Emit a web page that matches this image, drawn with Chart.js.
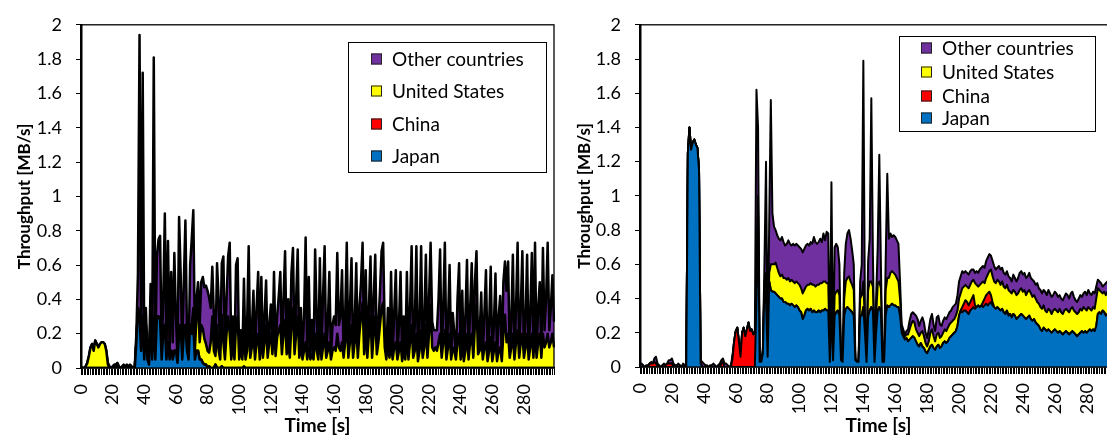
<!DOCTYPE html>
<html>
<head>
<meta charset="utf-8">
<script src="https://cdn.jsdelivr.net/npm/chart.js@4.4.1/dist/chart.umd.min.js"></script>
<style>
  html, body { margin: 0; padding: 0; background: #fff; overflow: hidden; width: 1107px; height: 438px; }
  .panel { position: absolute; top: 0; }
  #panelL { left: 0; }
  #panelR { left: 560px; }
</style>
</head>
<body>
<div class="panel" id="panelL"><canvas id="left" width="560" height="438"></canvas></div>
<div class="panel" id="panelR"><canvas id="right" width="567" height="438"></canvas></div>
<script>
// Time axis: one sample per second, 0..299
const seconds = [];
for (let s = 0; s < 300; s++) seconds.push(s);

// ---- Left panel: throughput per country [MB/s] ----
const leftJapan = [
  0,0,0,0,0,0,0,0,0,0,
  0,0,0,0,0,0,0,0,0,0,
  0,0,0,0,0,0,0,0,0,0,
  0,0,0,0,0,.15,.35,.3,.1,.3,
  .05,.25,.05,.02,.3,.05,.3,.05,.3,.3,
  .28,.05,.2,.25,.05,.15,.05,.1,.05,.1,
  .1,.03,.2,.25,.05,.2,.25,.1,.05,.25,
  .2,.25,.05,.1,.1,.05,.05,.03,.02,.02,
  0,.01,0,0,0,.02,0,0,0,.01,
  0,0,0,0,0,0,0,0,0,0,
  0,0,0,0,0,0,0,0,0,0,
  0,0,0,0,0,0,0,0,0,0,
  0,0,0,0,0,0,0,0,0,0,
  0,0,0,0,0,0,0,0,0,0,
  0,0,0,0,0,0,0,0,0,0,
  0,0,0,0,0,0,0,0,0,0,
  0,0,0,0,0,0,0,0,0,0,
  0,0,0,0,0,0,0,0,0,0,
  0,0,0,0,0,0,0,0,0,0,
  0,0,0,0,0,0,0,0,0,0,
  0,0,0,0,0,0,0,0,0,0,
  0,0,0,0,0,0,0,0,0,0,
  0,0,0,0,0,0,0,0,0,0,
  0,0,0,0,0,0,0,0,0,0,
  0,0,0,0,0,0,0,0,0,0,
  0,0,0,0,0,0,0,0,0,0,
  0,0,0,0,0,0,0,0,0,0,
  0,0,0,0,0,0,0,0,0,0,
  0,0,0,0,0,0,0,0,0,0,
  0,0,0,0,0,0,0,0,0,0
];
const leftChina = [
  0,0,0,0,0,0,0,0,0,0,
  0,0,0,0,0,0,0,0,0,0,
  0,0,.01,0,0,0,0,0,0,0,
  0,0,0,0,0,0,0,0,0,0,
  0,0,0,0,0,0,0,0,0,0,
  0,0,0,0,0,0,0,0,0,0,
  0,0,0,0,0,0,0,0,0,0,
  0,0,0,0,0,0,0,0,0,0,
  0,0,0,0,0,0,0,0,0,0,
  0,0,0,0,0,0,0,0,0,0,
  0,0,0,.01,0,0,0,0,0,0,
  0,0,0,0,0,0,0,0,0,0,
  0,0,0,0,0,0,0,0,0,0,
  0,0,0,0,0,0,0,0,0,0,
  0,0,0,0,0,0,0,0,0,0,
  0,0,0,0,0,0,0,0,0,0,
  0,0,0,0,0,0,0,0,0,0,
  0,0,0,0,0,0,0,0,0,0,
  0,0,0,0,0,0,0,0,0,0,
  0,0,0,0,0,0,0,0,0,0,
  0,0,0,0,0,0,0,0,0,0,
  0,0,0,0,0,0,0,0,0,0,
  0,0,0,0,0,0,0,0,0,0,
  0,0,0,0,0,0,0,0,0,0,
  0,0,0,0,0,0,0,0,0,0,
  0,0,0,0,0,0,0,0,0,0,
  0,0,0,0,0,0,0,0,0,0,
  0,0,0,0,0,0,0,0,0,0,
  0,0,0,0,0,0,0,0,0,0,
  0,0,0,0,0,0,0,0,0,0
];
const leftUS = [
  0,0,0,.01,.03,.07,.12,.14,.1,.16,
  .14,.12,.14,.15,.15,.14,.1,.02,0,0,
  0,0,0,0,0,0,0,0,0,0,
  0,0,0,0,0,0,0,0,0,0,
  0,0,0,0,0,0,0,0,0,0,
  0,0,0,0,0,0,0,0,0,0,
  0,0,0,0,0,0,0,0,0,0,
  .05,.1,.05,.2,.3,.1,.2,.2,.15,.12,
  .1,.08,.15,.3,.1,.05,.25,.1,.05,.3,
  .15,.05,.2,.3,.2,.05,.15,.05,.25,.3,
  .05,.12,.05,.2,.05,.1,.3,.06,.12,.2,
  .05,.15,.2,.05,.2,.06,.15,.25,.06,.15,
  .2,.08,.25,.07,.18,.22,.25,.08,.2,.28,
  .08,.15,.06,.25,.35,.08,.2,.3,.06,.15,
  .05,.1,.15,.05,.12,.05,.08,.05,.2,.1,
  .05,.2,.05,.12,.2,.06,.1,.15,.05,.1,
  .12,.1,.2,.12,.1,.15,.06,.15,.3,.06,
  .15,.25,.06,.15,.25,.06,.2,.3,.38,.08,
  .25,.06,.2,.3,.06,.2,.3,.08,.15,.25,
  .35,.38,.12,.05,.15,.06,.15,.05,.12,.15,
  .05,.1,.15,.04,.1,.05,.2,.05,.15,.25,
  .06,.1,.2,.04,.1,.22,.06,.12,.25,.06,
  .2,.37,.12,.1,.12,.1,.15,.2,.06,.15,
  .22,.05,.12,.2,.05,.12,.1,.05,.15,.2,
  .05,.15,.04,.1,.2,.05,.15,.2,.06,.25,
  .37,.08,.1,.2,.05,.12,.15,.04,.1,.18,
  .04,.1,.15,.04,.1,.12,.04,.2,.31,.15,
  .2,.06,.12,.2,.05,.15,.22,.06,.15,.2,
  .06,.12,.2,.05,.12,.2,.06,.22,.06,.15,
  .2,.06,.2,.12,.15,.2,.12,.15,.2,.12
];
const leftOther = [
  0,0,0,0,0,0,0,0,0,0,
  0,0,0,0,0,0,0,.01,.01,0,
  .01,.02,.01,.03,.01,0,.01,.02,.01,.02,
  .01,.02,.01,0,.01,.05,.2,1.64,.05,1.42,
  .02,.1,.02,.02,.19,.03,1.51,.05,.35,.45,
  .49,.05,.2,.65,.03,.59,.05,.46,.1,.57,
  .2,.02,.68,.3,.05,.3,.61,.1,.03,.35,
  .5,.57,.05,.1,.1,.1,.25,.3,.3,.34,
  .35,.32,.2,.29,.2,.03,.36,.3,.05,.3,
  .5,.05,.2,.35,.53,.05,.15,.02,.35,.34,
  .01,.1,.02,.31,.01,.15,.41,.02,.1,.25,
  .01,.2,.36,.03,.33,.02,.15,.26,.02,.1,
  .17,.02,.31,.04,.12,.2,.31,.02,.2,.4,
  .03,.25,.02,.3,.35,.02,.2,.39,.02,.2,
  .01,.2,.61,.01,.41,.02,.2,.01,.49,.2,
  .01,.44,.02,.3,.51,.01,.15,.41,.02,.15,
  .18,.15,.47,.13,.2,.42,.02,.15,.43,.02,
  .2,.39,.01,.1,.36,.01,.15,.2,.35,.02,
  .32,.02,.15,.35,.02,.2,.36,.02,.1,.2,
  .33,.35,.1,.02,.2,.02,.41,.01,.2,.42,
  .01,.15,.41,.01,.2,.02,.36,.01,.2,.46,
  .02,.15,.51,.01,.15,.49,.02,.15,.41,.02,
  .2,.36,.15,.12,.1,.12,.25,.49,.02,.2,
  .51,.01,.15,.4,.01,.2,.1,.01,.25,.41,
  .01,.3,.01,.2,.43,.01,.2,.41,.02,.25,
  .31,.03,.1,.24,.01,.2,.42,.01,.15,.41,
  .01,.15,.4,.01,.2,.3,.01,.3,.31,.3,
  .42,.02,.15,.46,.01,.2,.51,.02,.2,.48,
  .02,.15,.46,.01,.2,.47,.02,.51,.02,.2,
  .3,.03,.5,.1,.25,.53,.1,.2,.34,.15
];

// ---- Right panel: throughput per country [MB/s] ----
const rightJapan = [
  0,0,0,0,0,0,0,0,0,0,
  0,0,0,0,0,0,0,0,0,0,
  0,0,0,0,0,0,0,0,0,0,
  1.25,1.4,1.27,1.31,1.33,1.3,1.28,1.15,.02,0,
  0,0,0,0,0,0,0,0,0,0,
  0,0,0,0,0,0,0,0,0,0,
  0,0,0,0,0,0,0,0,0,0,
  0,0,0,.4,.9,.03,.03,.08,.45,.4,
  .06,.5,.45,.44,.44,.43,.42,.41,.4,.4,
  .38,.38,.37,.37,.36,.37,.36,.35,.36,.35,
  .33,.32,.28,.3,.33,.34,.33,.34,.32,.33,
  .32,.32,.33,.32,.33,.33,.34,.33,.33,.03,
  .35,.04,.3,.32,.33,.3,.04,.03,.3,.34,
  .35,.34,.33,.32,.3,.04,.03,.03,.3,.3,
  .35,.2,.03,.3,.33,.35,.33,.03,.2,.33,
  .35,.32,.03,.03,.3,.36,.35,.36,.37,.36,
  .36,.35,.35,.3,.2,.18,.16,.17,.15,.16,
  .17,.18,.17,.15,.13,.12,.14,.12,.11,.09,
  .08,.1,.12,.13,.11,.1,.12,.13,.11,.12,
  .14,.15,.14,.15,.17,.18,.19,.2,.21,.24,
  .3,.33,.32,.33,.33,.32,.31,.33,.34,.35,
  .34,.35,.36,.35,.36,.35,.36,.37,.36,.37,
  .38,.36,.35,.34,.35,.34,.33,.34,.32,.31,
  .33,.3,.31,.29,.31,.3,.28,.29,.3,.31,
  .3,.29,.28,.29,.3,.28,.27,.28,.26,.25,
  .24,.22,.21,.23,.22,.21,.22,.21,.2,.21,
  .22,.21,.2,.21,.2,.19,.2,.21,.2,.19,
  .2,.21,.2,.19,.18,.19,.2,.21,.2,.21,
  .2,.21,.22,.21,.22,.21,.24,.31,.32,.31,
  .33,.32,.3,.31,.3,.31,.3,.31,.3,.31
];
const rightChina = [
  0,0,0,0,0,0,.02,.02,.02,.03,
  .02,.01,0,0,0,0,.01,.02,.02,.02,
  .02,0,0,0,0,0,0,0,0,0,
  0,0,0,0,0,0,0,0,0,0,
  0,0,0,0,0,0,0,0,0,0,
  0,.02,.03,0,0,0,0,0,.05,.15,
  .21,.23,.15,.06,.2,.23,.18,.22,.26,.21,
  .22,.19,.2,0,0,0,0,0,0,0,
  0,0,0,0,0,0,0,0,0,0,
  0,0,0,0,0,0,0,0,0,0,
  0,0,0,0,0,0,0,0,0,0,
  0,0,0,0,0,0,0,0,0,0,
  0,0,0,0,0,0,0,0,0,0,
  0,0,0,0,0,0,0,0,0,0,
  0,0,0,0,0,0,0,0,0,0,
  0,0,0,0,0,0,0,0,0,0,
  0,0,0,0,0,0,0,0,0,0,
  0,0,0,0,0,0,0,0,0,0,
  0,0,0,0,0,0,0,0,0,0,
  0,0,0,0,0,0,0,0,0,0,
  0,0,.03,.04,.06,.06,.05,.05,.06,.07,
  .02,0,0,0,0,.03,.04,.05,.07,.07,
  .04,.02,0,0,0,0,0,0,0,0,
  0,0,0,0,0,0,0,0,0,0,
  0,0,0,0,0,0,0,0,0,0,
  0,0,0,0,0,0,0,0,0,0,
  0,0,0,0,0,0,0,0,0,0,
  0,0,0,0,0,0,0,0,0,0,
  0,0,0,0,0,0,0,0,0,0,
  0,0,0,0,0,0,0,0,0,0
];
const rightUS = [
  0,0,0,0,0,0,0,0,0,0,
  0,0,0,0,0,0,0,0,0,0,
  0,0,0,0,0,0,0,0,0,0,
  0,0,0,0,0,0,0,0,0,0,
  0,0,0,0,0,0,0,0,0,0,
  0,0,0,0,0,0,0,0,0,0,
  0,0,0,0,0,0,0,0,0,0,
  0,0,0,.1,.1,0,0,0,.05,.15,
  0,.05,.15,.16,.16,.18,.16,.14,.13,.14,
  .14,.14,.14,.15,.14,.14,.14,.14,.14,.14,
  .15,.14,.15,.15,.14,.14,.15,.15,.16,.15,
  .15,.16,.15,.17,.16,.17,.16,.16,.16,0,
  .15,0,.12,.12,.12,.12,0,0,.1,.16,
  .17,.19,.17,.16,.15,0,0,0,.1,.12,
  .15,.05,0,.15,.17,.15,.14,0,.1,.15,
  .15,.14,0,0,.15,.16,.17,.19,.19,.19,
  .18,.17,.15,.1,.02,.02,.02,.02,.04,.06,
  .08,.09,.09,.07,.07,.06,.06,.09,.07,.05,
  .04,.05,.08,.09,.07,.05,.07,.07,.06,.06,
  .06,.07,.07,.08,.08,.08,.08,.08,.09,.09,
  .1,.1,.11,.1,.09,.09,.1,.1,.1,.09,
  .13,.13,.11,.13,.13,.12,.09,.1,.11,.12,
  .15,.15,.15,.15,.16,.16,.15,.16,.15,.15,
  .15,.15,.13,.14,.14,.14,.14,.14,.15,.15,
  .14,.16,.14,.15,.15,.15,.14,.14,.14,.13,
  .13,.13,.13,.13,.11,.11,.12,.12,.11,.12,
  .12,.12,.12,.13,.12,.12,.13,.13,.13,.13,
  .14,.14,.13,.13,.13,.13,.14,.12,.15,.13,
  .13,.14,.12,.12,.13,.13,.16,.15,.13,.13,
  .1,.12,.12,.13,.13,.13,.13,.13,.12,.12
];
const rightOther = [
  .01,.02,.01,0,.01,.01,0,.01,0,.02,
  .04,.01,.01,0,.01,.02,0,0,.02,.02,
  .03,.02,.01,.01,.02,.01,0,.02,.01,.02,
  0,0,0,0,0,0,0,0,.02,.03,
  .02,.01,.01,0,.01,.01,.02,.01,0,.01,
  .02,.02,.02,.02,.02,.01,0,.01,.02,0,
  0,0,0,0,0,0,0,0,0,0,
  0,0,0,1.12,.4,.02,.01,.02,.1,.65,
  .01,.3,.96,.3,.22,.19,.19,.2,.21,.22,
  .21,.19,.21,.22,.22,.2,.22,.22,.22,.22,
  .22,.23,.24,.24,.24,.24,.23,.24,.24,.28,
  .26,.24,.25,.26,.24,.28,.24,.3,.29,.01,
  .58,.01,.28,.28,.25,.18,.01,0,.15,.22,
  .26,.27,.25,.2,.15,.01,0,.01,.1,.18,
  1.29,.05,0,.17,.25,1.07,.18,0,.1,.22,
  .74,.14,0,.01,.17,.61,.23,.23,.2,.22,
  .22,.22,.22,.1,.03,.02,.01,.02,.03,.05,
  .06,.05,.05,.08,.08,.06,.07,.08,.08,.06,
  .05,.07,.08,.09,.07,.06,.1,.1,.08,.06,
  .07,.07,.07,.07,.07,.07,.08,.08,.07,.09,
  .1,.1,.1,.08,.08,.08,.08,.08,.07,.06,
  .06,.08,.08,.09,.09,.09,.09,.1,.1,.1,
  .08,.09,.09,.08,.07,.09,.09,.08,.08,.08,
  .08,.08,.08,.07,.09,.08,.08,.09,.1,.1,
  .1,.1,.1,.09,.1,.09,.1,.08,.08,.11,
  .09,.1,.09,.09,.11,.1,.11,.1,.1,.09,
  .1,.1,.09,.08,.08,.08,.08,.09,.09,.08,
  .09,.09,.08,.07,.07,.08,.08,.08,.08,.1,
  .09,.1,.09,.09,.09,.09,.07,.05,.05,.05,
  .04,.04,.07,.06,.05,.05,.04,.04,.05,.05
];

const yTicks = [0, 0.2, 0.4, 0.6, 0.8, 1, 1.2, 1.4, 1.6, 1.8, 2];

const COLORS = { japan: '#0070C0', china: '#FF0000', us: '#FFFF00', other: '#7030A0' };
const FONT = 'Lato, "Open Sans", sans-serif';

// Plot frame: thin box around the chart area
const framePlugin = {
  id: 'frame',
  afterDatasetsDraw(chart) {
    const { ctx, chartArea: a } = chart;
    ctx.save();
    ctx.strokeStyle = '#000';
    ctx.lineWidth = 1.3;
    ctx.strokeRect(a.left, a.top, a.right - a.left, a.bottom - a.top);
    ctx.restore();
  }
};

// Boxed legend inside the plot area
const boxLegendPlugin = {
  id: 'boxLegend',
  afterDraw(chart, args, opts) {
    const { ctx } = chart;
    const items = [
      { text: 'Other countries', color: COLORS.other },
      { text: 'United States', color: COLORS.us },
      { text: 'China', color: COLORS.china },
      { text: 'Japan', color: COLORS.japan }
    ];
    ctx.save();
    ctx.fillStyle = '#fff';
    ctx.fillRect(opts.x, opts.y, opts.w, opts.h);
    ctx.strokeStyle = '#000';
    ctx.lineWidth = 1;
    ctx.strokeRect(opts.x + 0.5, opts.y + 0.5, opts.w, opts.h);
    ctx.font = opts.fontSize + 'px ' + FONT;
    ctx.textBaseline = 'middle';
    items.forEach((it, k) => {
      const cy = opts.rows[k];
      ctx.fillStyle = it.color;
      ctx.fillRect(opts.sx, cy - 5.5, 11, 11);
      ctx.strokeStyle = '#222';
      ctx.strokeRect(opts.sx + 0.5, cy - 5.5 + 0.5, 10, 10);
      ctx.fillStyle = '#000';
      ctx.fillText(it.text, opts.tx, cy + 1);
    });
    ctx.restore();
  }
};

function makePanel(canvasId, series, cfg) {
  const common = { borderColor: '#000', borderWidth: cfg.lineWidth, pointRadius: 0, tension: 0, borderJoinStyle: 'round' };
  return new Chart(document.getElementById(canvasId), {
    type: 'line',
    data: {
      labels: seconds,
      datasets: [
        Object.assign({ label: 'Japan', data: series.japan, backgroundColor: COLORS.japan, fill: 'origin' }, common),
        Object.assign({ label: 'China', data: series.china, backgroundColor: COLORS.china, fill: '-1' }, common),
        Object.assign({ label: 'United States', data: series.us, backgroundColor: COLORS.us, fill: '-1' }, common),
        Object.assign({ label: 'Other countries', data: series.other, backgroundColor: COLORS.other, fill: '-1' }, common)
      ]
    },
    options: {
      responsive: false,
      animation: false,
      events: [],
      layout: { padding: { top: 15, right: cfg.rightPad, left: 0, bottom: 0 } },
      plugins: {
        legend: { display: false },
        tooltip: { enabled: false },
        boxLegend: cfg.legend
      },
      scales: {
        x: {
          type: 'category',
          stacked: true,
          offset: false,
          grid: { display: true, drawOnChartArea: false, drawTicks: true, tickLength: 7, color: '#000', lineWidth: 1 },
          border: { display: true, color: '#000', width: 1.5 },
          ticks: {
            autoSkip: false, maxRotation: 90, minRotation: 90, padding: 9,
            font: { family: FONT, size: 18 }, color: '#000',
            callback: (v, i) => (seconds[i] % 20 === 0 ? String(seconds[i]) : '')
          },
          title: { display: true, text: 'Time [s]', color: '#000', font: { family: FONT, size: 19, weight: 'bold' }, padding: { top: 0, bottom: 1 } },
          afterFit: (s) => { s.height = cfg.xHeight; s.paddingLeft = 0; s.paddingRight = 0; }
        },
        y: {
          stacked: true,
          min: 0, max: 2,
          afterBuildTicks: (s) => { s.ticks = yTicks.map(v => ({ value: v })); },
          grid: { drawOnChartArea: false, drawTicks: true, tickLength: 5, color: '#000', lineWidth: 1 },
          border: { display: true, color: '#000', width: 2.5 },
          ticks: {
            padding: 14, color: '#000', font: { family: FONT, size: 18 },
            callback: (v) => String(Math.round(v * 10) / 10)
          },
          title: { display: true, text: 'Throughput [MB/s]', color: '#000', font: { family: FONT, size: 17, weight: 'bold' }, padding: { top: 14, bottom: 0 } },
          afterFit: (s) => { s.width = cfg.yWidth; }
        }
      }
    },
    plugins: [framePlugin, boxLegendPlugin]
  });
}

makePanel('left',
  { japan: leftJapan, china: leftChina, us: leftUS, other: leftOther },
  { rightPad: 6, xHeight: 70, yWidth: 81, lineWidth: 2.5,
    legend: { x: 348, y: 42, w: 198, h: 130, sx: 371, tx: 392, fontSize: 19, rows: [59, 91, 124, 156] } });

makePanel('right',
  { japan: rightJapan, china: rightChina, us: rightUS, other: rightOther },
  { rightPad: 10, xHeight: 71, yWidth: 80, lineWidth: 2,
    legend: { x: 339, y: 36, w: 196, h: 95, sx: 361, tx: 382, fontSize: 19, rows: [48, 72, 96, 118] } });
</script>
</body>
</html>
